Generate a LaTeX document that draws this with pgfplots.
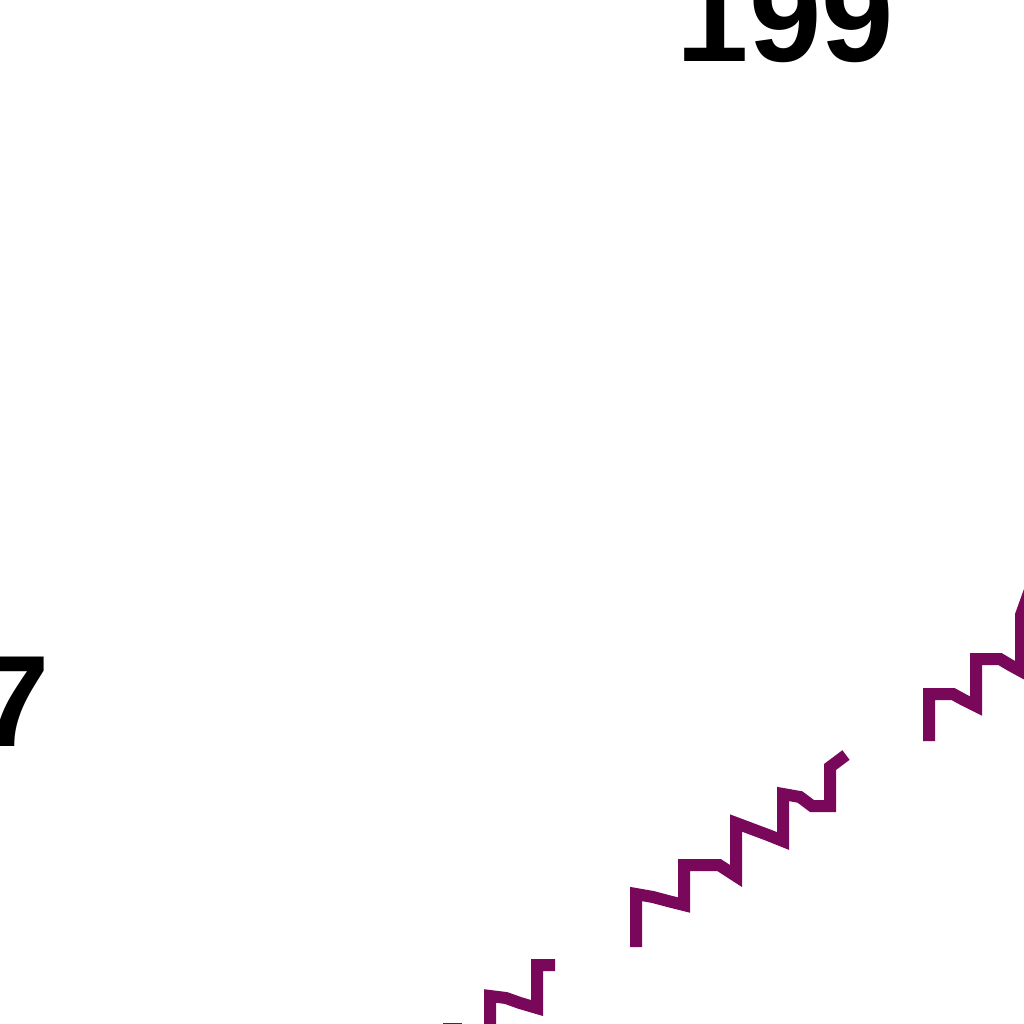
\documentclass[border=0pt]{standalone}
\usepackage{fontspec}
\setmainfont{Liberation Sans}
\usepackage{pgfplots}
\pgfplotsset{compat=1.18}
\definecolor{plum}{RGB}{122,8,90}

\begin{document}
\begin{tikzpicture}
  \useasboundingbox (0,0) rectangle (10.24,10.24);
  \clip (0,0) rectangle (10.24,10.24);
  \begin{axis}[
    at={(0,0)}, anchor=south west,
    scale only axis,
    width=10.24cm, height=10.24cm,
    xmin=0, xmax=1024,
    ymin=0, ymax=1024,
    y dir=reverse,
    hide axis,
    clip=true,
    run/.style={draw=plum, line width=0.12cm, line join=miter, line cap=butt, mark=none},
    ]
    % piece cut by the lower edge
    \addplot[run] coordinates {(443,1029) (462,1029)};
    % first run
    \addplot[run] coordinates {
      (490,1045) (490,996) (506,998) (520,1003) (537,1008)
      (537,965) (555,965)
    };
    % second run
    \addplot[run] coordinates {
      (636,947) (636,894) (653,897) (668,901) (684,905)
      (684,865) (719,865) (736,876)
      (736,823) (752,829) (768,835) (783,841)
      (783,794) (800,797) (812,806) (830,806)
      (830,767) (846,755)
    };
    % third run
    \addplot[run] coordinates {
      (929,741) (929,694) (953,694) (964,700) (976,706)
      (976,659) (1000,659) (1010,665) (1021,671)
      (1021,615) (1030,590)
    };
    % text cut by the frame
    \node[anchor=base west, inner sep=0pt, font=\fontsize{37}{44}\selectfont\bfseries] at (axis cs:676,61) {199};
    \node[anchor=base east, inner sep=0pt, font=\fontsize{37}{44}\selectfont\bfseries] at (axis cs:51,746) {7};
  \end{axis}
\end{tikzpicture}
\end{document}
